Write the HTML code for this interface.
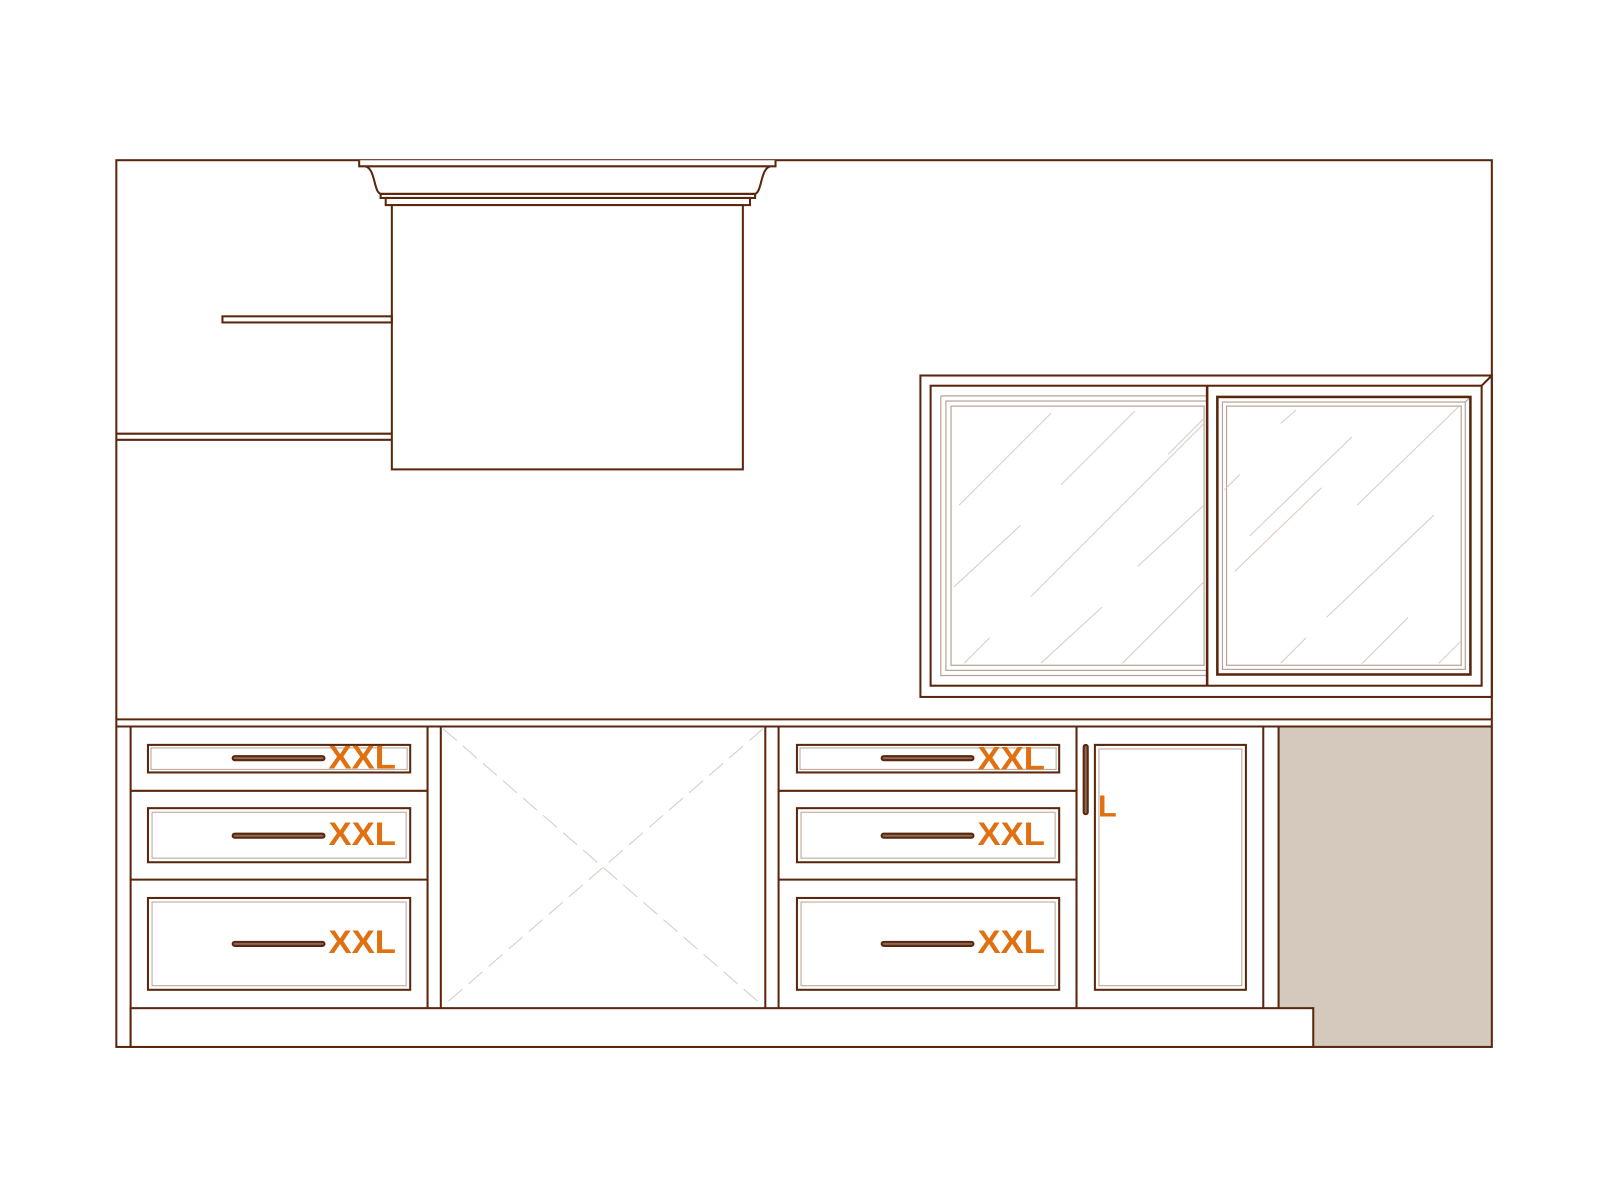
<!DOCTYPE html>
<html><head><meta charset="utf-8"><style>html,body{margin:0;padding:0;background:#fff;width:1600px;height:1200px;overflow:hidden}svg{display:block}</style></head>
<body>
<svg width="1600" height="1200" viewBox="0 0 1568 1176" preserveAspectRatio="none" xmlns="http://www.w3.org/2000/svg">
<g fill="none" stroke="#5a260c" stroke-width="2">
<rect x="1253" y="712" width="209" height="314" fill="#d5c8bd" stroke="none"/>
<rect x="114" y="157" width="1348" height="869"/>
<path d="M352,157 V163 H760 V157" fill="#fff"/>
<path d="M358,163 C368,165 366,188 373,190 H740 C747,188 745,165 755,163"/>
<rect x="373" y="190" width="367" height="4"/>
<rect x="378" y="194" width="357" height="7"/>
<rect x="384" y="201" width="344" height="259" fill="#fff"/>
<rect x="218" y="310" width="166" height="6"/>
<path d="M114,425 H384 M114,431 H384"/>
<rect x="902" y="368" width="560" height="315"/>
<rect x="912" y="378" width="540" height="294"/>
<path d="M1452,378 L1462,368"/>
<g stroke="#b8a496" stroke-width="1.2">
<path d="M922,388 H1183 M922,388 V662 H1183"/>
<rect x="927" y="393" width="256" height="264"/>
<rect x="932" y="398" width="248" height="254"/>
<rect x="1198" y="394" width="238" height="262"/>
<rect x="1202" y="398" width="230" height="254"/>
<path d="M1436,394 L1441,389"/>
</g>
<g stroke="#d8cbc2" stroke-width="1">
<path d="M940,495 L1030,405 M1040,475 L1112,403 M1145,445 L1180,410 M935,575 L1000,515 M1010,585 L1180,415 M945,650 L970,625 M1020,650 L1080,595 M1100,650 L1180,570 M1200,480 L1215,465 M1225,525 L1325,428 M1330,495 L1430,398 M1210,560 L1295,478 M1300,605 L1405,505 M1255,650 L1280,625 M1335,650 L1380,605 M1410,650 L1432,628 M1255,415 L1270,402 M1115,555 L1180,495"/>
</g>
<path d="M1183,378 V672" stroke-width="2.5"/>
<rect x="1193" y="389" width="248" height="272" stroke-width="2.5"/>
<path d="M114,705 H1462 M114,712 H1462"/>
<path d="M128,712 V1026"/>
<rect x="128" y="988" width="1159" height="38" fill="#fff"/>
<path d="M419,712 V988 M432,712 V988 M750,712 V988 M763,712 V988 M1055,712 V988 M1238,712 V988 M1253,712 V988"/>
<path d="M128,775 H419 M128,862 H419 M763,775 H1055 M763,862 H1055"/>
<g stroke="#d8cbc2" stroke-width="1" stroke-dasharray="18,8">
<path d="M434,714 L748,986 M748,714 L434,986"/>
</g>
<g id="dr">
<rect x="145" y="730" width="257" height="27"/>
<rect x="148" y="733" width="251" height="21" stroke="#b8a496" stroke-width="1"/>
<rect x="145" y="792" width="257" height="53"/>
<rect x="149" y="796" width="249" height="45" stroke="#b8a496" stroke-width="1"/>
<rect x="145" y="880" width="257" height="90"/>
<rect x="149" y="884" width="249" height="82" stroke="#b8a496" stroke-width="1"/>
<rect x="228" y="741" width="90" height="4" rx="2" fill="#8a6a58"/>
<rect x="228" y="817" width="90" height="4" rx="2" fill="#8a6a58"/>
<rect x="228" y="923" width="90" height="4" rx="2" fill="#8a6a58"/>
</g>
<use href="#dr" transform="translate(636,0)"/>
<rect x="1073" y="730" width="148" height="240"/>
<rect x="1077" y="734" width="140" height="232" stroke="#b8a496" stroke-width="1"/>
<rect x="1062" y="730" width="4" height="68" rx="2" fill="#8a6a58"/>
</g>
<g font-family="Liberation Sans, sans-serif" font-weight="bold" font-size="32" fill="#e07010">
<text x="322" y="753" textLength="66" lengthAdjust="spacingAndGlyphs">XXL</text>
<text x="322" y="828" textLength="66" lengthAdjust="spacingAndGlyphs">XXL</text>
<text x="322" y="934" textLength="66" lengthAdjust="spacingAndGlyphs">XXL</text>
<text x="958" y="754" textLength="66" lengthAdjust="spacingAndGlyphs">XXL</text>
<text x="958" y="828" textLength="66" lengthAdjust="spacingAndGlyphs">XXL</text>
<text x="958" y="934" textLength="66" lengthAdjust="spacingAndGlyphs">XXL</text>
<text x="1076" y="800" font-size="30">L</text>
</g>
</svg>
</body></html>
